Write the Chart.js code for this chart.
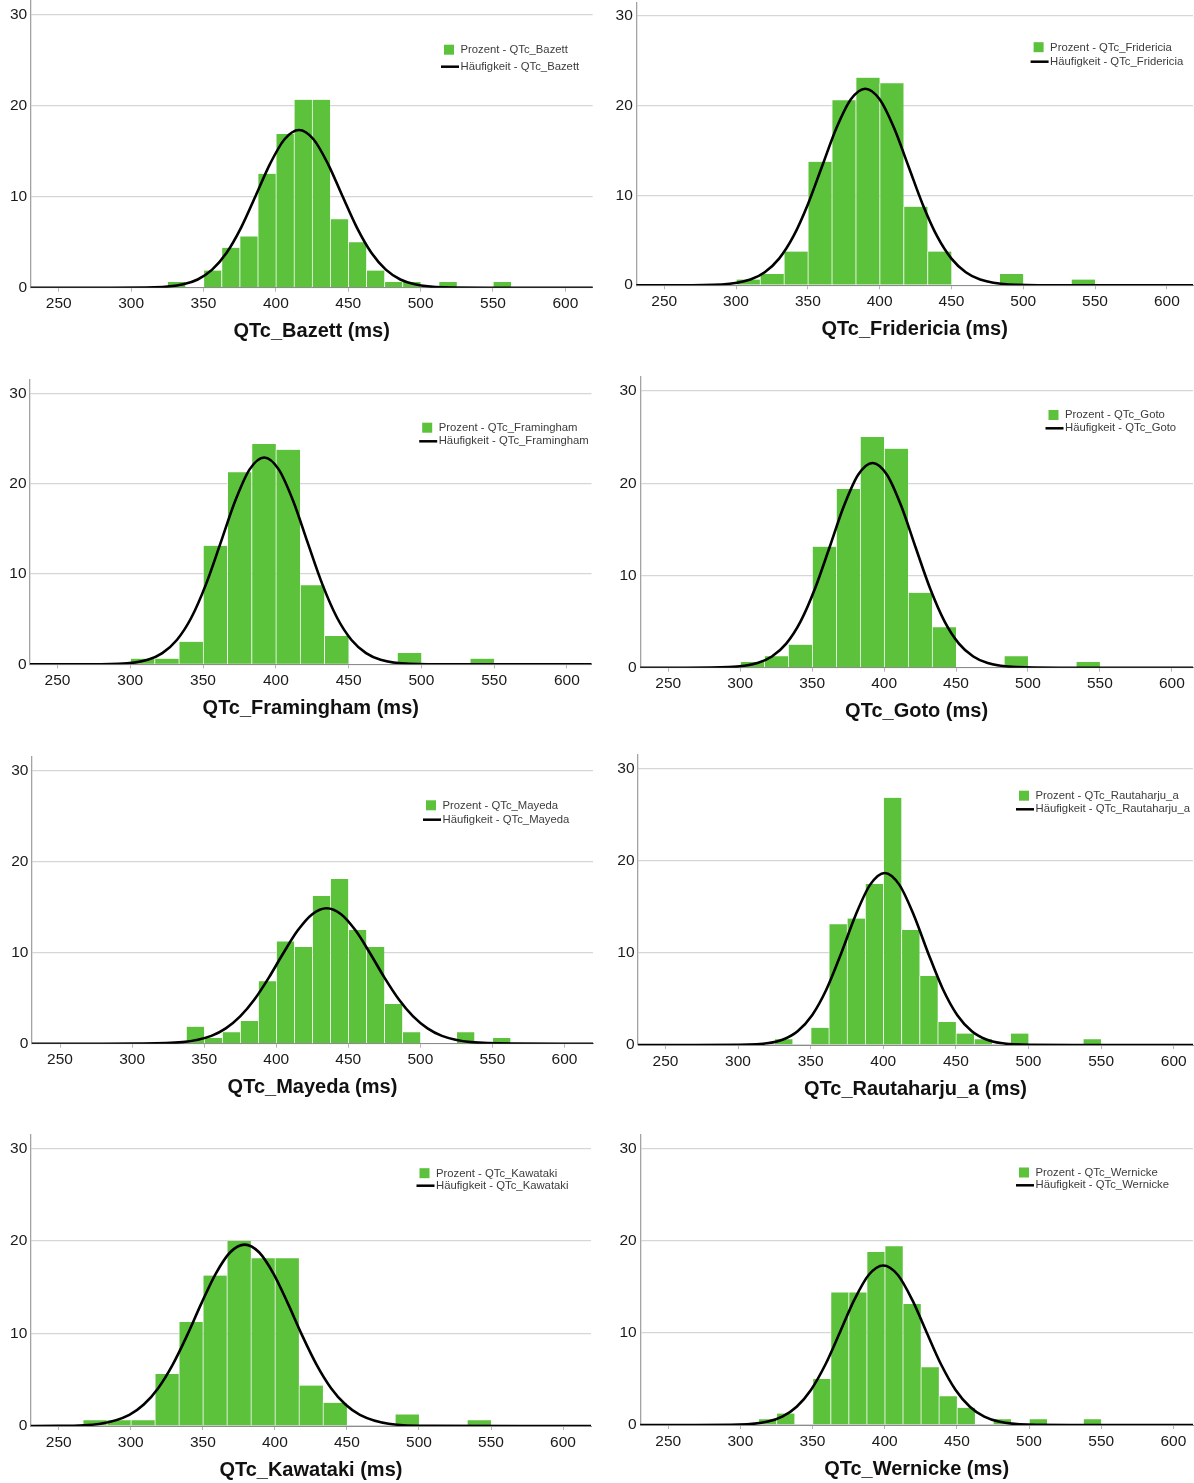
<!DOCTYPE html>
<html lang="de">
<head>
<meta charset="utf-8">
<title>QTc-Verteilungen</title>
<script src="https://cdn.jsdelivr.net/npm/chart.js@4.4.1/dist/chart.umd.min.js"></script>
<style>
  html, body { margin: 0; padding: 0; background: #fff; overflow: hidden; }
  #page { position: relative; width: 1194px; height: 1483px; overflow: hidden; background: #fff; }
  #page canvas { position: absolute; }
</style>
</head>
<body>
<div id="page"></div>
<script>
// ---------- axis ticks ----------
const xTicks = [250, 300, 350, 400, 450, 500, 550, 600];
const yTicks = [0, 10, 20, 30];

// ---------- histograms: bin lower edges (ms) and share of cases (%) ----------
const bazettBinWidth = 12.5;
const bazettBins = [325, 350, 362.5, 375, 387.5, 400, 412.5, 425, 437.5, 450, 462.5, 475, 487.5, 512.5, 550];
const bazettPct  = [0.625, 1.875, 4.375, 5.625, 12.5, 16.875, 20.625, 20.625, 7.5, 5.0, 1.875, 0.625, 0.625, 0.625, 0.625];

const fridericiaBinWidth = 50 / 3;
const fridericiaBins = [300, 316.67, 333.33, 350, 366.67, 383.33, 400, 416.67, 433.33, 483.33, 533.33];
const fridericiaPct  = [0.625, 1.25, 3.75, 13.75, 20.625, 23.125, 22.5, 8.75, 3.75, 1.25, 0.625];

const framinghamBinWidth = 50 / 3;
const framinghamBins = [300, 316.67, 333.33, 350, 366.67, 383.33, 400, 416.67, 433.33, 483.33, 533.33];
const framinghamPct  = [0.625, 0.625, 2.5, 13.125, 21.25, 24.375, 23.75, 8.75, 3.125, 1.25, 0.625];

const gotoBinWidth = 50 / 3;
const gotoBins = [300, 316.67, 333.33, 350, 366.67, 383.33, 400, 416.67, 433.33, 483.33, 533.33];
const gotoPct  = [0.625, 1.25, 2.5, 13.125, 19.375, 25.0, 23.75, 8.125, 4.375, 1.25, 0.625];

const mayedaBinWidth = 12.5;
const mayedaBins = [337.5, 350, 362.5, 375, 387.5, 400, 412.5, 425, 437.5, 450, 462.5, 475, 487.5, 525, 550];
const mayedaPct  = [1.875, 0.625, 1.25, 2.5, 6.875, 11.25, 10.625, 16.25, 18.125, 12.5, 10.625, 4.375, 1.25, 1.25, 0.625];

const rautaharjuBinWidth = 12.5;
const rautaharjuBins = [325, 350, 362.5, 375, 387.5, 400, 412.5, 425, 437.5, 450, 462.5, 487.5, 537.5];
const rautaharjuPct  = [0.625, 1.875, 13.125, 13.75, 17.5, 26.875, 12.5, 7.5, 2.5, 1.25, 0.625, 1.25, 0.625];

const kawatakiBinWidth = 50 / 3;
const kawatakiBins = [266.67, 283.33, 300, 316.67, 333.33, 350, 366.67, 383.33, 400, 416.67, 433.33, 483.33, 533.33];
const kawatakiPct  = [0.625, 0.625, 0.625, 5.625, 11.25, 16.25, 20.0, 18.125, 18.125, 4.375, 2.5, 1.25, 0.625];

const wernickeBinWidth = 12.5;
const wernickeBins = [312.5, 325, 350, 362.5, 375, 387.5, 400, 412.5, 425, 437.5, 450, 475, 500, 537.5];
const wernickePct  = [0.625, 1.25, 5.0, 14.375, 14.375, 18.75, 19.375, 13.125, 6.25, 3.125, 1.875, 0.625, 0.625, 0.625];

// ---------- fitted normal curves (sampled points) ----------
const bazettCurveX = [230, 286, 316, 336, 346, 356, 366, 376, 386, 396, 406, 416, 426, 436, 446, 456, 466, 476, 486, 496, 516, 546, 620];
const bazettCurveY = [0, 0, 0.04, 0.37, 0.9, 1.98, 3.83, 6.59, 10.06, 13.59, 16.29, 17.3, 16.29, 13.59, 10.06, 6.59, 3.83, 1.98, 0.9, 0.37, 0.04, 0, 0];

const fridericiaCurveX = [230, 260, 290, 310, 320, 330, 340, 350, 360, 370, 380, 390, 400, 410, 420, 430, 440, 450, 460, 470, 490, 520, 620];
const fridericiaCurveY = [0, 0, 0.08, 0.63, 1.44, 2.96, 5.46, 9.0, 13.28, 17.54, 20.72, 21.9, 20.72, 17.54, 13.28, 9.0, 5.46, 2.96, 1.44, 0.63, 0.08, 0, 0];

const framinghamCurveX = [230, 262, 292, 312, 322, 332, 342, 352, 362, 372, 382, 392, 402, 412, 422, 432, 442, 452, 462, 472, 492, 522, 620];
const framinghamCurveY = [0, 0, 0.06, 0.51, 1.24, 2.69, 5.18, 8.85, 13.41, 18.05, 21.58, 22.9, 21.58, 18.05, 13.41, 8.85, 5.18, 2.69, 1.24, 0.51, 0.06, 0, 0];

const gotoCurveX = [230, 262, 292, 312, 322, 332, 342, 352, 362, 372, 382, 392, 402, 412, 422, 432, 442, 452, 462, 472, 492, 522, 620];
const gotoCurveY = [0, 0, 0.06, 0.5, 1.21, 2.61, 5.02, 8.58, 13.0, 17.5, 20.92, 22.2, 20.92, 17.5, 13.0, 8.58, 5.02, 2.61, 1.21, 0.5, 0.06, 0, 0];

const mayedaCurveX = [230, 275, 305, 335, 355, 365, 375, 385, 395, 405, 415, 425, 435, 445, 455, 465, 475, 485, 495, 505, 515, 535, 565, 620];
const mayedaCurveY = [0, 0, 0.01, 0.17, 0.86, 1.68, 3.0, 4.89, 7.3, 9.98, 12.47, 14.25, 14.9, 14.25, 12.47, 9.98, 7.3, 4.89, 3.0, 1.68, 0.86, 0.17, 0.01, 0];

const rautaharjuCurveX = [230, 271, 301, 321, 331, 341, 351, 361, 371, 381, 391, 401, 411, 421, 431, 441, 451, 461, 471, 481, 501, 531, 620];
const rautaharjuCurveY = [0, 0, 0.02, 0.21, 0.6, 1.5, 3.24, 6.09, 9.95, 14.13, 17.43, 18.7, 17.43, 14.13, 9.95, 6.09, 3.24, 1.5, 0.6, 0.21, 0.02, 0, 0];

const kawatakiCurveX = [230, 249, 279, 299, 309, 319, 329, 339, 349, 359, 369, 379, 389, 399, 409, 419, 429, 439, 449, 459, 479, 509, 620];
const kawatakiCurveY = [0, 0.01, 0.25, 1.21, 2.32, 4.09, 6.61, 9.77, 13.25, 16.47, 18.77, 19.6, 18.77, 16.47, 13.25, 9.77, 6.61, 4.09, 2.32, 1.21, 0.25, 0.01, 0];

const wernickeCurveX = [230, 269, 299, 319, 329, 339, 349, 359, 369, 379, 389, 399, 409, 419, 429, 439, 449, 459, 469, 479, 499, 529, 620];
const wernickeCurveY = [0, 0, 0.04, 0.37, 0.9, 1.98, 3.83, 6.59, 10.06, 13.59, 16.29, 17.3, 16.29, 13.59, 10.06, 6.59, 3.83, 1.98, 0.9, 0.37, 0.04, 0, 0];

// ---------- panels ----------
const panels = [
  { name: 'QTc_Bazett',       binWidth: bazettBinWidth,     bins: bazettBins,     pct: bazettPct,     cx: bazettCurveX,     cy: bazettCurveY },
  { name: 'QTc_Fridericia',   binWidth: fridericiaBinWidth, bins: fridericiaBins, pct: fridericiaPct, cx: fridericiaCurveX, cy: fridericiaCurveY },
  { name: 'QTc_Framingham',   binWidth: framinghamBinWidth, bins: framinghamBins, pct: framinghamPct, cx: framinghamCurveX, cy: framinghamCurveY },
  { name: 'QTc_Goto',         binWidth: gotoBinWidth,       bins: gotoBins,       pct: gotoPct,       cx: gotoCurveX,       cy: gotoCurveY },
  { name: 'QTc_Mayeda',       binWidth: mayedaBinWidth,     bins: mayedaBins,     pct: mayedaPct,     cx: mayedaCurveX,     cy: mayedaCurveY },
  { name: 'QTc_Rautaharju_a', binWidth: rautaharjuBinWidth, bins: rautaharjuBins, pct: rautaharjuPct, cx: rautaharjuCurveX, cy: rautaharjuCurveY },
  { name: 'QTc_Kawataki',     binWidth: kawatakiBinWidth,   bins: kawatakiBins,   pct: kawatakiPct,   cx: kawatakiCurveX,   cy: kawatakiCurveY },
  { name: 'QTc_Wernicke',     binWidth: wernickeBinWidth,   bins: wernickeBins,   pct: wernickePct,   cx: wernickeCurveX,   cy: wernickeCurveY }
];

// Page placement of each plot: canvas column, plot-area edges, axis range, legend anchor
const frames = [
  { left: 0,   top: 0.2,    zero: 287.7,  axL: 30.7,  axR: 592.7, xMin: 230.65, xMax: 618.9, legX: 441,    leg1: 49.7,   leg2: 66.7 },
  { left: 597, top: 2.1,    zero: 285.2,  axL: 636.3, axR: 1193,  xMin: 230.57, xMax: 618.2, legX: 1030.6, leg1: 47.2,   leg2: 61.7 },
  { left: 0,   top: 379.3,  zero: 664.3,  axL: 30,    axR: 591.5, xMin: 231.1,  xMax: 616.9, legX: 419.2,  leg1: 427.7,  leg2: 441.3 },
  { left: 597, top: 376.7,  zero: 667.7,  axL: 640.2, axR: 1193,  xMin: 230.5,  xMax: 614.7, legX: 1045.5, leg1: 415,    leg2: 428.3 },
  { left: 0,   top: 756.9,  zero: 1043.7, axL: 31.9,  axR: 593,   xMin: 230.5,  xMax: 619.8, legX: 423,    leg1: 805.3,  leg2: 819.7 },
  { left: 597, top: 754.7,  zero: 1045,   axL: 638,   axR: 1193,  xMin: 231.1,  xMax: 613.3, legX: 1016,   leg1: 795.7,  leg2: 809.3 },
  { left: 0,   top: 1134,   zero: 1426,   axL: 30.8,  axR: 591,   xMin: 230.6,  xMax: 619.4, legX: 416.5,  leg1: 1173.2, leg2: 1185.7 },
  { left: 597, top: 1134,   zero: 1425,   axL: 640.2, axR: 1193,  xMin: 230.6,  xMax: 613.6, legX: 1016,   leg1: 1172.5, leg2: 1185.3 }
];

const GREEN = '#5cc13b';
const SEPARATOR = 'rgba(255,255,255,0.6)';
const PANEL_W = 597;
const X_AXIS_H = 60;

Chart.defaults.font.family = "'Liberation Sans', Arial, sans-serif";

// Two-row legend in the upper right of the plot area: green swatch + black line sample
const cornerLegend = {
  id: 'cornerLegend',
  afterDatasetsDraw(chart, args, opts) {
    const ctx = chart.ctx;
    const bars = chart.data.datasets.find(d => d.type === 'bar');
    const line = chart.data.datasets.find(d => d.type === 'line');
    ctx.save();
    ctx.font = "11.3px 'Liberation Sans', Arial, sans-serif";
    ctx.textBaseline = 'middle';
    ctx.textAlign = 'left';
    // row 1: percentage bars
    ctx.fillStyle = bars.backgroundColor;
    ctx.fillRect(opts.x + 3, opts.y1 - 5, 10, 10);
    ctx.fillStyle = '#3c3c3c';
    ctx.fillText(bars.label, opts.x + 19.5, opts.y1 + 0.3);
    // row 2: normal curve
    ctx.strokeStyle = line.borderColor;
    ctx.lineWidth = 2.5;
    ctx.beginPath();
    ctx.moveTo(opts.x, opts.y2);
    ctx.lineTo(opts.x + 18, opts.y2);
    ctx.stroke();
    ctx.fillText(line.label, opts.x + 19.5, opts.y2 - 0.3);
    ctx.restore();
  }
};

const page = document.getElementById('page');

panels.forEach((p, i) => {
  const f = frames[i];
  const canvasTop = Math.floor(f.top);
  const padTop = f.top - canvasTop;
  const canvasH = Math.ceil(f.zero - canvasTop + X_AXIS_H);
  const padBottom = canvasH - X_AXIS_H - (f.zero - canvasTop);

  const canvas = document.createElement('canvas');
  canvas.width = PANEL_W;
  canvas.height = canvasH;
  canvas.style.left = f.left + 'px';
  canvas.style.top = canvasTop + 'px';
  canvas.style.width = PANEL_W + 'px';
  canvas.style.height = canvasH + 'px';
  page.appendChild(canvas);

  new Chart(canvas, {
    type: 'bar',
    data: {
      datasets: [
        {
          type: 'line',
          label: 'Häufigkeit - ' + p.name,
          data: p.cx.map((x, k) => ({ x: x, y: p.cy[k] })),
          borderColor: '#000000',
          borderWidth: 2.6,
          pointRadius: 0,
          cubicInterpolationMode: 'monotone',
          fill: false,
          order: 1
        },
        {
          type: 'bar',
          label: 'Prozent - ' + p.name,
          data: p.bins.map((s, k) => ({ x: s + p.binWidth / 2, y: p.pct[k] })),
          backgroundColor: GREEN,
          borderColor: SEPARATOR,
          borderWidth: { left: 1, right: 0, top: 0, bottom: 0 },
          borderSkipped: false,
          barPercentage: 1,
          categoryPercentage: 1,
          grouped: false,
          order: 2
        }
      ]
    },
    options: {
      responsive: false,
      animation: false,
      events: [],
      devicePixelRatio: 1,
      layout: {
        padding: { left: 0, top: padTop, right: PANEL_W - (f.axR - f.left), bottom: padBottom }
      },
      plugins: {
        legend: { display: false },
        tooltip: { enabled: false },
        cornerLegend: { x: f.legX - f.left, y1: f.leg1 - canvasTop, y2: f.leg2 - canvasTop }
      },
      scales: {
        x: {
          type: 'linear',
          min: f.xMin,
          max: f.xMax,
          offset: false,
          afterBuildTicks: s => { s.ticks = xTicks.map(v => ({ value: v })); },
          afterFit: s => { s.height = X_AXIS_H; s.paddingLeft = 0; s.paddingRight = 0; },
          grid: { display: true, offset: false, drawOnChartArea: false, drawTicks: true, tickLength: 4, tickColor: '#b5b5b5' },
          border: { display: true, color: '#8c8c8c', width: 1 },
          ticks: { font: { size: 15.5 }, color: '#1a1a1a', padding: 3, maxRotation: 0, autoSkip: false },
          title: {
            display: true,
            text: p.name + ' (ms)',
            font: { size: 20, weight: 'bold' },
            color: '#111111',
            padding: { top: 0, bottom: 4 }
          }
        },
        y: {
          type: 'linear',
          min: 0,
          max: 31.55,
          afterBuildTicks: s => { s.ticks = yTicks.map(v => ({ value: v })); },
          afterFit: s => { s.width = f.axL - f.left; s.paddingTop = 0; s.paddingBottom = 0; },
          grid: { color: '#d6d6d6', lineWidth: 1.3, drawTicks: false },
          border: { display: true, color: '#a3a3a3', width: 1.3 },
          ticks: { font: { size: 15.5 }, color: '#1a1a1a', padding: 3.5 }
        }
      }
    },
    plugins: [cornerLegend]
  });
});
</script>
</body>
</html>
